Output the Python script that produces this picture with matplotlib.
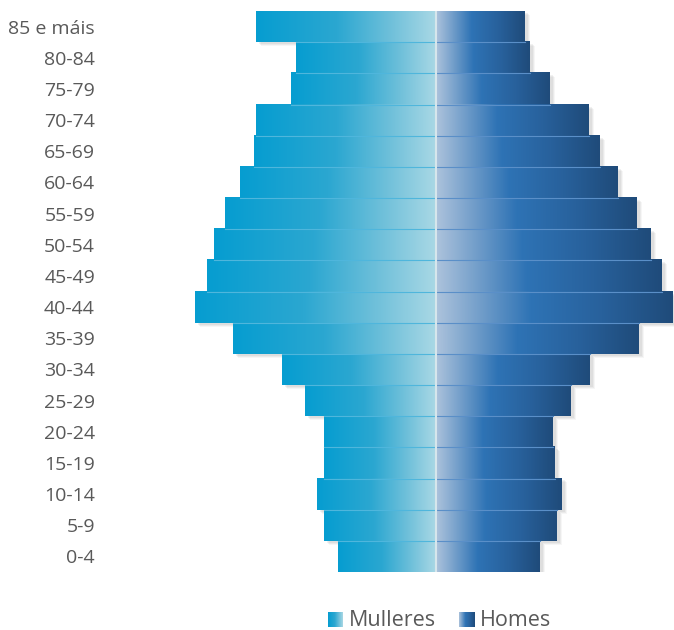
import numpy as np
import matplotlib.pyplot as plt
from matplotlib.colors import LinearSegmentedColormap
from matplotlib.transforms import offset_copy

plt.rcParams['font.family'] = ['Open Sans', 'DejaVu Sans']

grupos = ["0-4", "5-9", "10-14", "15-19", "20-24", "25-29", "30-34", "35-39",
          "40-44", "45-49", "50-54", "55-59", "60-64", "65-69", "70-74",
          "75-79", "80-84", "85 e máis"]
mulleres = [98, 112, 119, 112, 112, 131, 154, 203, 241, 229, 222, 211, 196,
            182, 180, 145, 140, 180]
homes = [104, 121, 126, 119, 117, 135, 154, 203, 237, 226, 215, 201, 182,
         164, 153, 114, 94, 89]

cmap_m = LinearSegmentedColormap.from_list(
    "m", [(0, "#069dd0"), (0.45, "#2ba7d1"), (0.75, "#6fc0da"), (1, "#a9d8e5")])
cmap_h = LinearSegmentedColormap.from_list(
    "h", [(0, "#adc3dc"), (0.4, "#2e73b5"), (0.7, "#28619c"), (1, "#1f4b7a")])

grad = np.linspace(0, 1, 256).reshape(1, -1)

fig = plt.figure(figsize=(6.74, 6.3), dpi=100)
ax = fig.add_axes([195 / 674, 1 - 572 / 630, 479 / 674, 561 / 630])

y = np.arange(len(grupos))

# drop shadows (offset a few pixels down/right)
for dx, dy, a in [(5, -4, 0.05), (4, -3, 0.07), (3, -2, 0.08)]:
    tr = offset_copy(ax.transData, fig=fig, x=dx, y=dy, units='dots')
    ax.barh(y, [-v for v in mulleres], height=1.0, color="#555555", alpha=a,
            linewidth=0, transform=tr, zorder=1)
    ax.barh(y, homes, height=1.0, color="#555555", alpha=a,
            linewidth=0, transform=tr, zorder=1)

bars_m = ax.barh(y, [-v for v in mulleres], height=1.0, color="none", linewidth=0, zorder=2)
bars_h = ax.barh(y, homes, height=1.0, color="none", linewidth=0, zorder=2)

for b in bars_m:
    x0, y0, w, h = b.get_x(), b.get_y(), b.get_width(), b.get_height()
    ax.imshow(grad, cmap=cmap_m, aspect='auto', extent=(x0 + w, x0, y0, y0 + h),
              zorder=3, interpolation='bilinear')
for b in bars_h:
    x0, y0, w, h = b.get_x(), b.get_y(), b.get_width(), b.get_height()
    ax.imshow(grad, cmap=cmap_h, aspect='auto', extent=(x0, x0 + w, y0, y0 + h),
              zorder=3, interpolation='bilinear')

# thin separators between bars
for i in range(1, len(grupos)):
    top = min(mulleres[i], mulleres[i - 1])
    ax.plot([-top, 0], [i - 0.5, i - 0.5], color="#4fb6dc", lw=0.8, zorder=4)
    toph = min(homes[i], homes[i - 1])
    ax.plot([0, toph], [i - 0.5, i - 0.5], color="#5a8fc8", lw=0.8, zorder=4)

ax.axvline(0, color="#d6e6ec", lw=1.5, zorder=5)

ax.set_xlim(-241, 238)
ax.set_ylim(-0.5, len(grupos) - 0.5)
ax.set_yticks(y)
ax.set_yticklabels(grupos, fontsize=14, color="#595959")
ax.tick_params(axis='y', length=0, pad=72)
ax.set_xticks([])
for s in ax.spines.values():
    s.set_visible(False)

# legend
for x0, cm, label in [(328, cmap_m, "Mulleres"), (459, cmap_h, "Homes")]:
    lax = fig.add_axes([x0 / 674, 1 - 627 / 630, 15 / 674, 15 / 630])
    lax.imshow(grad, cmap=cm, aspect='auto', interpolation='bilinear')
    lax.axis('off')
    fig.text((x0 + 21) / 674, 1 - 621 / 630, label, fontsize=15.5, color="#595959",
             va='center', ha='left')

fig.savefig("out.png", dpi=100)
